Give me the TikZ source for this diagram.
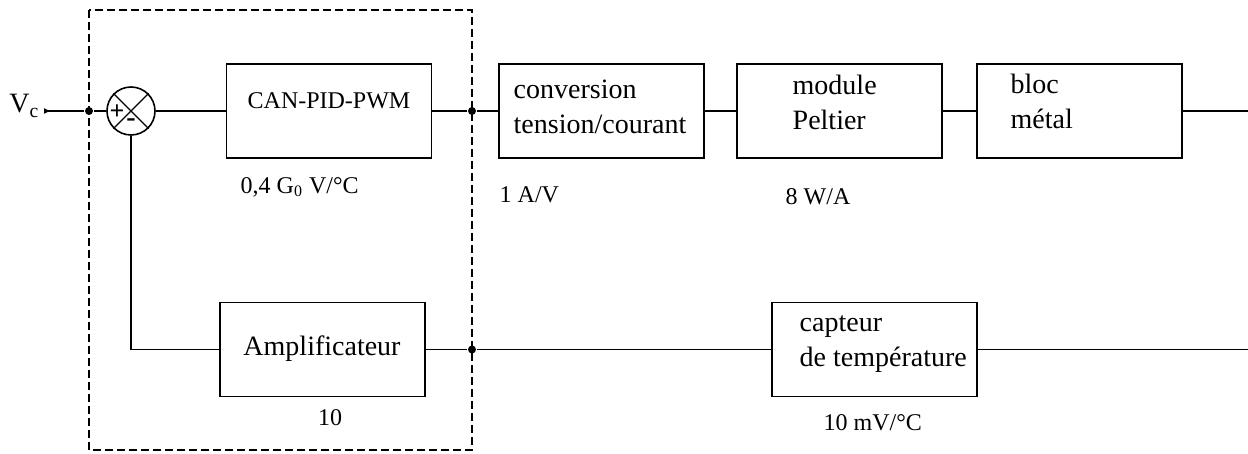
\documentclass[tikz,border=0pt]{standalone}
\usepackage{fontspec}
\setmainfont{Liberation Serif}
\usepackage{tikz}
\usetikzlibrary{arrows.meta}

\begin{document}
\begin{tikzpicture}[x=0.5pt,y=-0.5pt,line width=0.7pt,
    blok/.style={draw,line width=0.8pt,minimum width=102.5pt,minimum height=47pt,inner sep=0pt},
    txt/.style={draw=none,font=\fontsize{14}{17.5}\selectfont,align=left,inner sep=0pt},
    lab/.style={draw=none,font=\fontsize{12}{14}\selectfont,inner sep=0pt},
    dot/.style={circle,fill,inner sep=0pt,minimum size=4pt},
    summer/.style={circle,draw,line width=0.8pt,minimum size=24pt,inner sep=0pt}]
             \useasboundingbox (0,0) rectangle (1248,454);

             % part inside the dashed frame
             \draw[line width=0.7pt,dash pattern=on 4pt off 2pt] (89,10) rectangle (472,450);

             \node[lab,font=\fontsize{14}{17}\selectfont,anchor=east] (vc) at (40,106) {V\textsubscript{c}};
             \coordinate (vcin) at (44,111);
             \node[dot] (j1) at (89,111) {};
             \node[summer] (sum) at (131,111) {};
             \draw (sum.north west) -- (sum.south east);
             \draw (sum.north east) -- (sum.south west);
             \node[lab,font=\fontsize{13}{14}\bfseries] (plus) at (117,112) {+};
             \node[lab,font=\fontsize{14}{14}\bfseries] (minus) at (131,123) {-};

             \node[blok] (can) at (329,111) {};
             \node[lab] (tcan) at (329,101) {CAN-PID-PWM};
             \node[lab,anchor=west] (gcan) at (240,187) {0,4 G\textsubscript{0} V/°C};
             \node[dot] (j2) at (472,111) {};

             \node[blok] (amp) at (322.5,349.5) {};
             \node[txt] (tamp) at (322,349) {Amplificateur};
             \node[lab] (gamp) at (330,418) {10};
             \node[dot] (j3) at (472,349.5) {};

             % chain after the frame
             \node[blok] (conv) at (601.5,111) {};
             \node[txt,anchor=west] (tconv) at (513,107) {conversion\\tension/courant};
             \node[lab,anchor=west] (gconv) at (499,195) {1 A/V};

             \node[blok] (pelt) at (839.5,111) {};
             \node[txt,anchor=west] (tpelt) at (792,102) {module\\Peltier};
             \node[lab,anchor=west] (gpelt) at (785,197) {8 W/A};

             \node[blok] (bloc) at (1079.5,111) {};
             \node[txt,anchor=west] (tbloc) at (1010,101) {bloc\\métal};
             \coordinate (out) at (1248,111);

             \node[blok] (capt) at (874.5,349.5) {};
             \node[txt,anchor=west] (tcapt) at (799,344) {capteur\\de température};
             \node[lab,anchor=west] (gcapt) at (823,423) {10 mV/°C};
             \coordinate (mes) at (1248,349.5);

             % connections
             \draw[{Latex[length=3.5pt,width=3pt,reversed]}-] (vcin) -- (j1);
             \draw (j1) -- (sum);
             \draw (sum) -- (can);
             \draw (can) -- (j2);
             \draw (j2) -- (conv);
             \draw (conv) -- (pelt);
             \draw (pelt) -- (bloc);
             \draw (bloc) -- (out);
             \draw (sum.south) |- (amp.west);
             \draw (amp) -- (j3);
             \draw (j3) -- (capt);
             \draw (capt) -- (mes);

             \end{tikzpicture}
\end{document}
